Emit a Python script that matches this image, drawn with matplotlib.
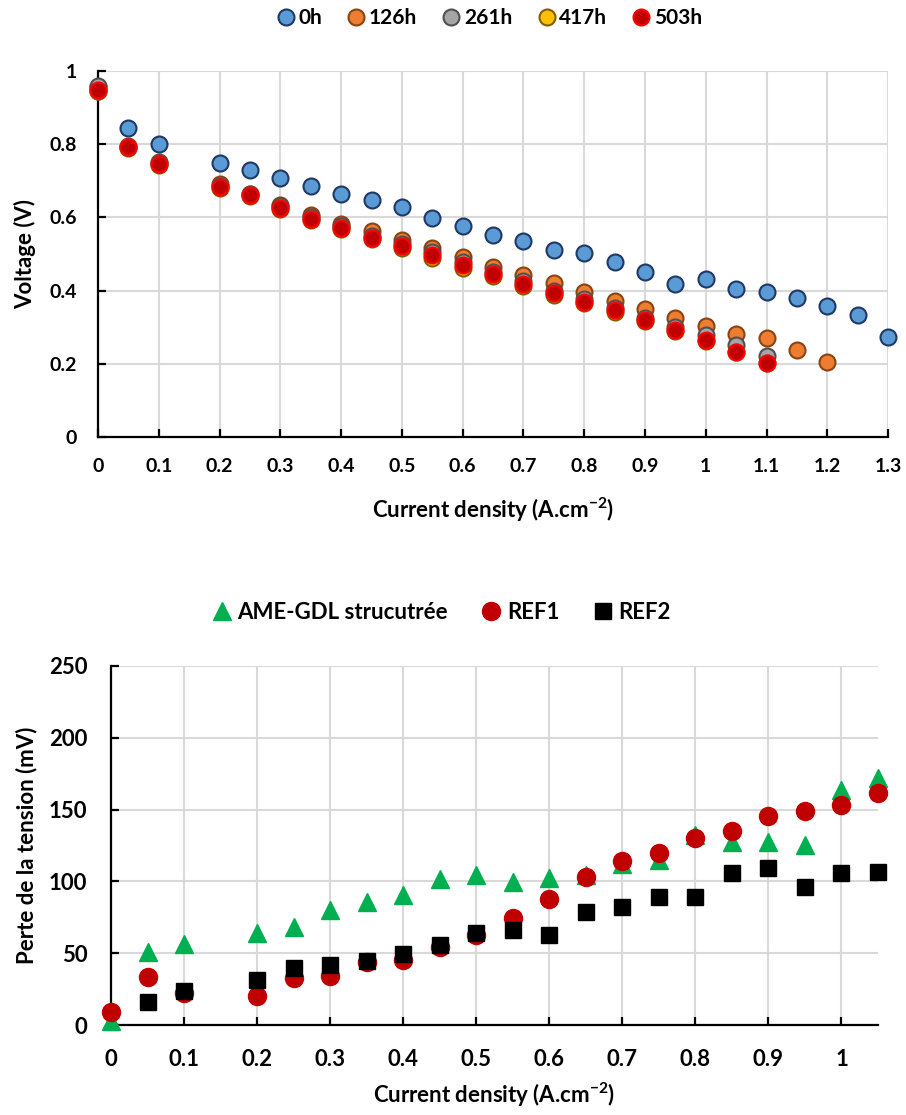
import numpy as np
import matplotlib
matplotlib.use('Agg')
import matplotlib.pyplot as plt
from matplotlib.ticker import FuncFormatter

plt.rcParams['font.family'] = ['Lato', 'DejaVu Sans']
plt.rcParams['font.weight'] = 'bold'
plt.rcParams['axes.labelweight'] = 'bold'
plt.rcParams['mathtext.fontset'] = 'custom'
plt.rcParams['mathtext.rm'] = 'Lato:bold'
plt.rcParams['mathtext.it'] = 'Lato:bold'
plt.rcParams['mathtext.bf'] = 'Lato:bold'

# ---- top chart: polarisation curves ----
j_top = [0, 0.05, 0.1, 0.2, 0.25, 0.3, 0.35, 0.4, 0.45, 0.5, 0.55, 0.6, 0.65,
         0.7, 0.75, 0.8, 0.85, 0.9, 0.95, 1.0, 1.05, 1.1, 1.15, 1.2, 1.25, 1.3]
v_0h = [0.955, 0.843, 0.800, 0.748, 0.730, 0.708, 0.686, 0.664, 0.648, 0.627,
        0.597, 0.576, 0.552, 0.534, 0.511, 0.503, 0.477, 0.450, 0.419, 0.431,
        0.404, 0.397, 0.380, 0.359, 0.332, 0.274]
v_126h = [0.945, 0.795, 0.750, 0.690, 0.665, 0.635, 0.607, 0.582, 0.562, 0.538,
          0.515, 0.493, 0.464, 0.443, 0.420, 0.397, 0.372, 0.349, 0.324, 0.304,
          0.281, 0.271, 0.238, 0.206]
v_261h = [0.958, 0.793, 0.748, 0.686, 0.663, 0.630, 0.600, 0.577, 0.550, 0.528,
          0.505, 0.478, 0.452, 0.425, 0.400, 0.378, 0.352, 0.325, 0.301, 0.279,
          0.251, 0.221]
v_417h = [0.945, 0.790, 0.742, 0.680, 0.657, 0.622, 0.592, 0.568, 0.540, 0.515,
          0.490, 0.462, 0.440, 0.413, 0.388, 0.365, 0.342, 0.318, 0.290, 0.262,
          0.232, 0.203]
v_503h = [0.948, 0.793, 0.745, 0.684, 0.661, 0.625, 0.595, 0.572, 0.543, 0.521,
          0.498, 0.470, 0.445, 0.418, 0.393, 0.368, 0.347, 0.320, 0.292, 0.265,
          0.233, 0.203]

# ---- bottom chart: voltage loss ----
j_bot = [0, 0.05, 0.1, 0.2, 0.25, 0.3, 0.35, 0.4, 0.45, 0.5, 0.55, 0.6, 0.65,
         0.7, 0.75, 0.8, 0.85, 0.9, 0.95, 1.0, 1.05]
loss_ame = [3, 50.6, 56.4, 64.3, 68.5, 80.1, 85.9, 90.5, 101.5, 104.5, 99.8,
            102.1, 104.5, 112, 115, 132, 127.7, 127.7, 125.3, 163.6, 171.8]
loss_ref1 = [8.8, 33.6, 22.1, 20.4, 32.5, 34.1, 44, 45.3, 54.5, 62.7, 74.3,
             87.5, 103.3, 114.2, 119.5, 130, 135.3, 145.8, 149.3, 153.2, 161.3]
loss_ref2 = [15.8, 23.9, 31.3, 39.5, 41.8, 44.6, 49.4, 55.7, 63.8, 66.2,
             62.7, 78.9, 81.9, 89.4, 88.9, 106.1, 109.1, 95.9, 106.1, 106.8]

fig = plt.figure(figsize=(9.06, 11.15), dpi=100)
ax1 = fig.add_axes([0.1082, 0.6081, 0.872, 0.3283])
ax2 = fig.add_axes([0.1225, 0.0807, 0.8466, 0.322])

top_series = [
    ('0h', j_top, v_0h, '#5B9BD5', '#1F3864'),
    ('126h', j_top[:len(v_126h)], v_126h, '#ED7D31', '#8A4412'),
    ('261h', j_top[:len(v_261h)], v_261h, '#A5A5A5', '#505050'),
    ('417h', j_top[:len(v_417h)], v_417h, '#FFC000', '#7F6000'),
    ('503h', j_top[:len(v_503h)], v_503h, '#C00000', '#FF0000'),
]
for name, x, y, fc, ec in top_series:
    ax1.plot(x, y, ls='none', marker='o', ms=11.5, mfc=fc, mec=ec, mew=1.5,
             label=name, clip_on=False, zorder=3)

ax1.set_xlim(0, 1.3)
ax1.set_ylim(0, 1)
ax1.set_xticks(np.arange(0, 1.31, 0.1))
ax1.set_yticks(np.arange(0, 1.01, 0.2))
ax1.set_xlabel('Current density (A.cm$^{-2}$)', fontsize=16, labelpad=15)
ax1.set_ylabel('Voltage (V)', fontsize=16, labelpad=10)
ax1.tick_params(labelsize=14, pad=15)

ax2.plot(j_bot, loss_ame, ls='none', marker='^', ms=12.5, color='#00B050',
         label='AME-GDL strucutrée', clip_on=False, zorder=3)
ax2.plot(j_bot, loss_ref1, ls='none', marker='o', ms=13, color='#C00000',
         label='REF1', clip_on=False, zorder=3)
ax2.plot(j_bot[1:], loss_ref2, ls='none', marker='s', ms=12, color='black',
         label='REF2', clip_on=False, zorder=3)

ax2.set_xlim(0, 1.05)
ax2.set_ylim(0, 250)
ax2.set_xticks(np.arange(0, 1.01, 0.1))
ax2.set_yticks(np.arange(0, 251, 50))
ax2.set_xlabel('Current density (A.cm$^{-2}$)', fontsize=16, labelpad=8)
ax2.set_ylabel('Perte de la tension (mV)', fontsize=16, labelpad=8)
ax2.tick_params(labelsize=16, pad=17)

fmt = FuncFormatter(lambda v, p: ('%.1f' % v).rstrip('0').rstrip('.') if v else '0')
for ax in (ax1, ax2):
    ax.xaxis.set_major_formatter(fmt)
    ax.yaxis.set_major_formatter(fmt)
    ax.grid(True, color='#D9D9D9', lw=1.5)
    ax.set_axisbelow(True)
    for s in ('top', 'right'):
        ax.spines[s].set_visible(False)
    for s in ('left', 'bottom'):
        ax.spines[s].set_linewidth(1.6)
    ax.tick_params(direction='in', length=6, width=1.6, colors='black')

fig.legend(handles=ax1.get_lines(), loc='center', bbox_to_anchor=(0.54, 0.984),
           ncol=5, frameon=False, fontsize=15, handlelength=0.9,
           handletextpad=0.15, columnspacing=1.2, borderpad=0)
fig.legend(handles=ax2.get_lines(), loc='center', bbox_to_anchor=(0.487, 0.451),
           ncol=3, frameon=False, fontsize=16, handlelength=0.9,
           handletextpad=0.25, columnspacing=1.5, borderpad=0)

fig.savefig('out.png', dpi=100)
